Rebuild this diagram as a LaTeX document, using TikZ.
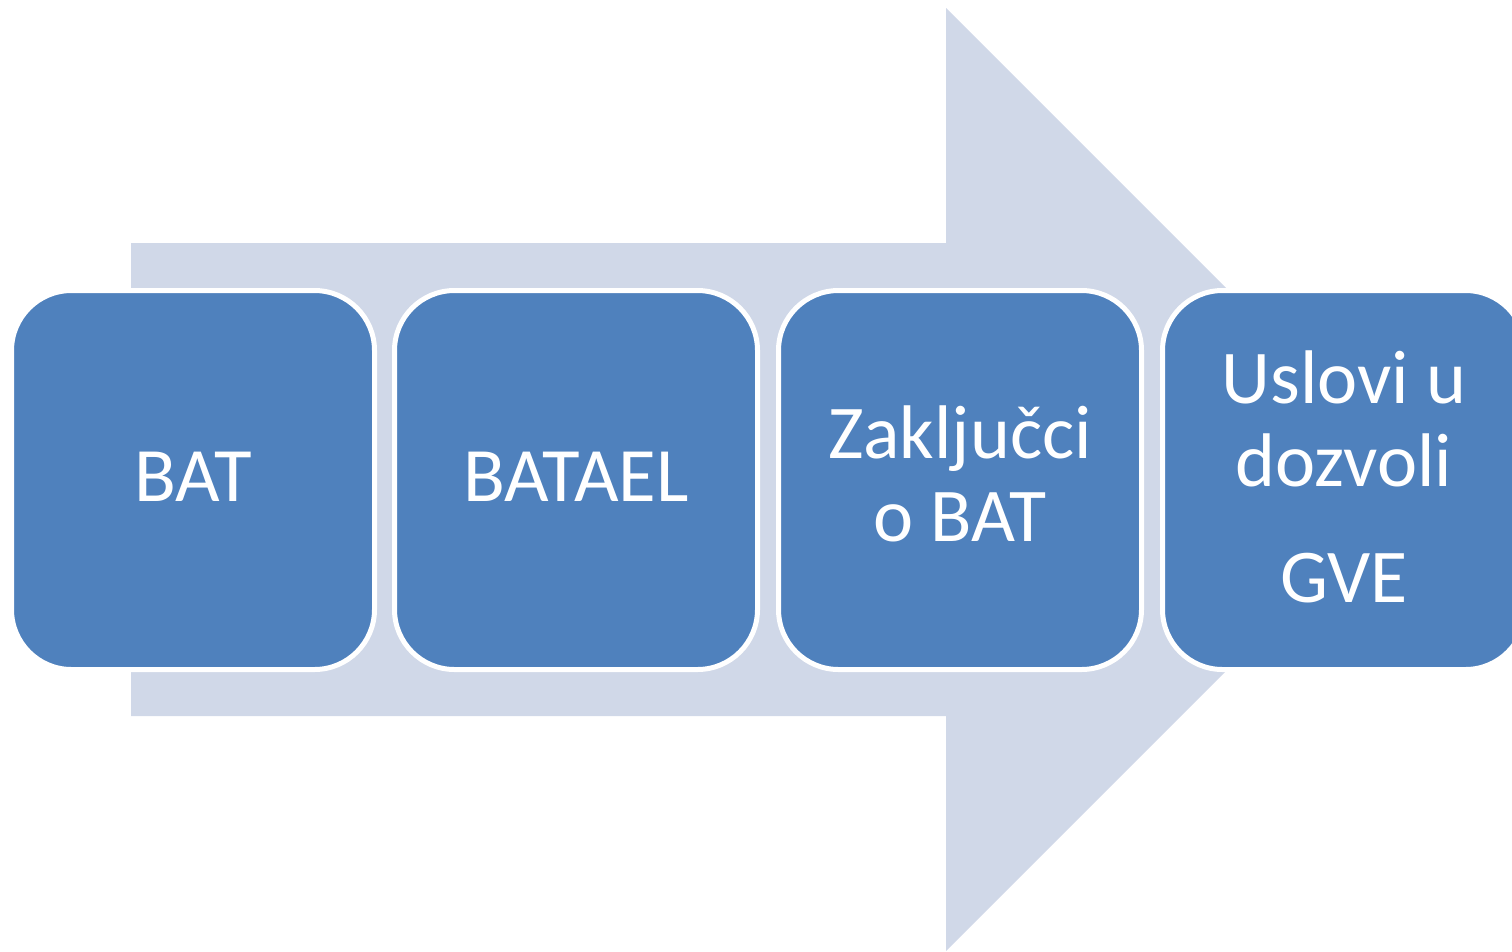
\documentclass[tikz,border=0pt]{standalone}
\usepackage{fontspec}
\setmainfont{Carlito}
\definecolor{arrowfill}{HTML}{D0D8E8}
\definecolor{boxfill}{HTML}{4F81BD}
\begin{document}
\begin{tikzpicture}[x=1pt,y=-1pt,
  box/.style={rectangle, rounded corners=60pt, fill=boxfill, draw=white, line width=5pt,
    minimum width=363pt, minimum height=379pt, inner sep=0pt},
  boxtext/.style={text=white, align=center, inner sep=0pt},
  bigtext/.style={font=\fontsize{77}{90}\selectfont},
  smalltext/.style={font=\fontsize{76}{83}\selectfont}]
\useasboundingbox (0,0) rectangle (1512,951);
\clip (0,0) rectangle (1512,951);
\fill[arrowfill] (131,243) -- (946,243) -- (946,8) -- (1417.5,479.5) -- (946,951) -- (946,716) -- (131,716) -- cycle;
\node[box] (b1) at (193,480) {};
\node[box] (b2) at (576,480) {};
\node[box] (b3) at (960,480) {};
\node[box] (b4) at (1344,480) {};
\node[boxtext,bigtext] (t1) at ([yshift=3.5pt]b1.center) {BAT};
\node[boxtext,bigtext] (t2) at ([yshift=3.5pt]b2.center) {BATAEL};
\node[boxtext,smalltext] (t3) at ([yshift=6.5pt]b3.center) {Zaklju\v{c}ci\\o BAT};
\node[boxtext,smalltext] (t4) at ([yshift=3.5pt]b4.center) {Uslovi u\\dozvoli\\[33pt]GVE};
\end{tikzpicture}
\end{document}
